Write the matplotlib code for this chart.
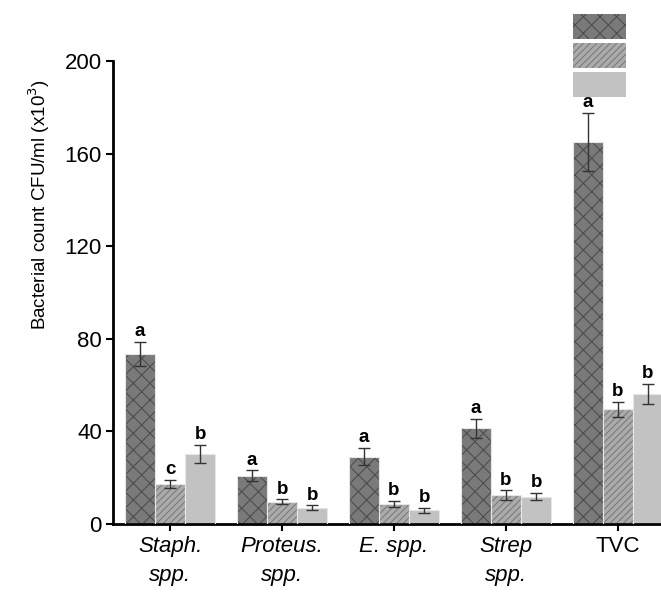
import matplotlib
matplotlib.use('Agg')
import matplotlib.pyplot as plt
import matplotlib.patches as mpatches
import numpy as np

plt.rcParams['font.family'] = ['Liberation Sans', 'DejaVu Sans']
plt.rcParams['hatch.linewidth'] = 0.8

# values (x10^3 CFU/ml)
groups = ['Staph.\nspp.', 'Proteus.\nspp.', 'E. spp.', 'Strep\nspp.', 'TVC']
italic = [True, True, True, True, False]

s1_vals = [73.4, 20.9, 29.1, 41.3, 165.1]
s1_err = [5.3, 2.2, 3.6, 4.0, 12.5]
s1_lett = ['a', 'a', 'a', 'a', 'a']

s2_vals = [17.3, 9.6, 8.6, 12.5, 49.5]
s2_err = [1.7, 1.0, 1.5, 2.0, 3.3]
s2_lett = ['c', 'b', 'b', 'b', 'b']

s3_vals = [30.2, 7.0, 5.8, 11.8, 56.2]
s3_err = [4.0, 1.0, 1.0, 1.5, 4.3]
s3_lett = ['b', 'b', 'b', 'b', 'b']

series = [
    (s1_vals, s1_err, s1_lett, '#7a7a7a', '#4e4e4e', 'xx'),
    (s2_vals, s2_err, s2_lett, '#ababab', '#7c7c7c', '/////'),
    (s3_vals, s3_err, s3_lett, '#c2c2c2', '#c2c2c2', ''),
]

fig = plt.figure(figsize=(6.61, 5.94), dpi=100)
ax = fig.add_axes([0.171, 0.118, 0.829, 0.779])

x = np.arange(len(groups))
w = 0.268
for i, (vals, err, lett, fc, hc, hatch) in enumerate(series):
    pos = x + (i - 1) * w
    ax.bar(pos, vals, w, color=fc, edgecolor=hc, hatch=hatch, linewidth=0, zorder=2)
    ax.bar(pos, vals, w, fill=False, edgecolor='#e6e6e6', linewidth=0.8, zorder=3)
    ax.errorbar(pos, vals, yerr=err, fmt='none', ecolor='#333333', elinewidth=1,
                capsize=4, capthick=1, zorder=4)
    for p, v, e, l in zip(pos, vals, err, lett):
        ax.text(p, v + e + 0.8, l, ha='center', va='bottom', fontsize=13.5,
                fontweight='bold', zorder=5)

ax.set_xlim(-0.509, 4.384)
ax.set_ylim(0, 200)
ax.set_yticks([0, 40, 80, 120, 160, 200])
ax.set_xticks(x)
ax.set_xticklabels(groups, fontsize=16, linespacing=1.45, ha='center')
for lab, it in zip(ax.get_xticklabels(), italic):
    if it:
        lab.set_fontstyle('italic')
ax.tick_params(axis='y', labelsize=16, width=1.5, length=5, direction='out', pad=3)
ax.tick_params(axis='x', width=1.5, length=5, direction='out', pad=4)
for sp in ['top', 'right']:
    ax.spines[sp].set_visible(False)
for sp in ['left', 'bottom']:
    ax.spines[sp].set_linewidth(2)

ax.set_ylabel('Bacterial count CFU/ml (x10$^3$)', fontsize=13.5, fontweight='medium')
ax.yaxis.set_label_coords(-0.112, 0.69)

handles = [mpatches.Patch(facecolor=fc, edgecolor=hc, hatch=hatch, linewidth=0)
           for (_, _, _, fc, hc, hatch) in series]
fig.legend(handles, ['', '', ''], loc='upper left', bbox_to_anchor=(0.867, 0.976),
           frameon=False, handlelength=3.8, handleheight=2.37, labelspacing=0.29,
           handletextpad=0, borderpad=0, borderaxespad=0)

fig.savefig('out.png', dpi=100)
